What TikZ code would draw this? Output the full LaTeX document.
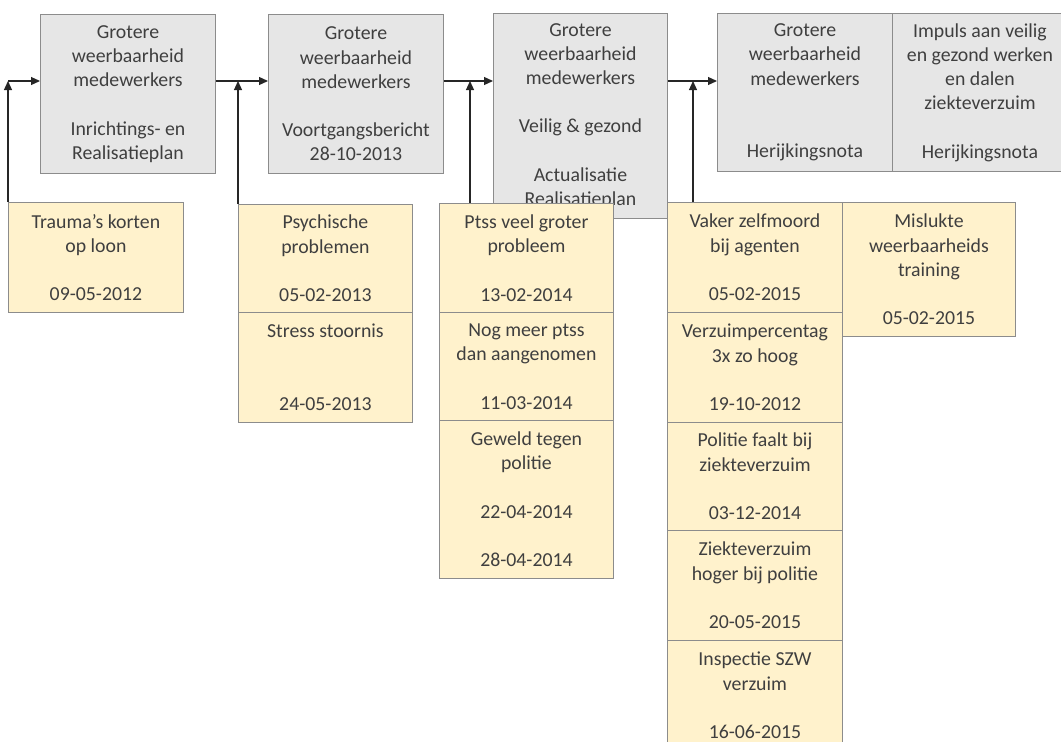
\documentclass[tikz,border=0pt]{standalone}
\usepackage{fontspec}
\setmainfont{Carlito}
\usetikzlibrary{arrows.meta}

\definecolor{goalfill}{HTML}{E6E6E6}
\definecolor{newsfill}{HTML}{FFF2CC}
\definecolor{edgegray}{HTML}{8C8C8C}
\definecolor{textgray}{HTML}{3F3F3F}

\begin{document}
\begin{tikzpicture}[>={Triangle[length=9pt, width=8pt]}, x=1pt, y=-1pt,
    goal/.style={draw=edgegray, fill=goalfill, line width=0.9pt, anchor=north west,
        inner sep=0pt, minimum width=175pt, align=center, text=textgray,
        font=\fontsize{19.8}{24.2}\selectfont},
    news/.style={goal, fill=newsfill},
    link/.style={->, line width=1.2pt, draw=black!85}]
    \clip (0, 0) rectangle (1061, 742);

    % Goals (top row)
    \node[goal, minimum height=159pt] (g1) at (40, 14) {Grotere\\weerbaarheid\\medewerkers\\~\\Inrichtings- en\\Realisatieplan};
    \node[goal, minimum height=159pt] (g2) at (268, 14) {Grotere\\weerbaarheid\\medewerkers\\~\\Voortgangsbericht\\28-10-2013};
    \node[goal, minimum width=174pt, minimum height=205pt] (g3) at (493, 13) {Grotere\\weerbaarheid\\medewerkers\\~\\Veilig \& gezond\\~\\Actualisatie\\Realisatieplan};
    \node[goal, minimum height=158pt] (g4a) at (717, 13) {Grotere\\weerbaarheid\\medewerkers\\~\\~\\Herijkingsnota};
    \node[goal, minimum height=158pt] (g4b) at (892, 13) {Impuls aan veilig\\en gezond werken\\en dalen\\ziekteverzuim\\~\\Herijkingsnota};

    % News items (below)
    \node[news, minimum height=110pt] (n1) at (8, 202) {Trauma’s korten\\op loon\\~\\09-05-2012};

    \node[news, minimum width=174pt, minimum height=108pt] (n2a) at (238, 204) {Psychische\\problemen\\~\\05-02-2013};
    \node[news, minimum width=174pt, minimum height=110pt] (n2b) at (238, 312) {Stress stoornis\\~\\~\\24-05-2013};

    \node[news, minimum width=174pt, minimum height=109pt] (n3a) at (439, 203) {Ptss veel groter\\probleem\\~\\13-02-2014};
    \node[news, minimum width=174pt, minimum height=108pt] (n3b) at (439, 312) {Nog meer ptss\\dan aangenomen\\~\\11-03-2014};
    \node[news, minimum width=174pt, minimum height=158pt] (n3c) at (439, 420) {Geweld tegen\\politie\\~\\22-04-2014\\~\\28-04-2014};

    \node[news, minimum height=110pt] (n4a) at (667, 202) {Vaker zelfmoord\\bij agenten\\~\\05-02-2015};
    \node[news, minimum height=110pt] (n4b) at (667, 312) {Verzuimpercentag\\3x zo hoog\\~\\19-10-2012};
    \node[news, minimum height=108pt] (n4c) at (667, 422) {Politie faalt bij\\ziekteverzuim\\~\\03-12-2014};
    \node[news, minimum height=110pt] (n4d) at (667, 530) {Ziekteverzuim\\hoger bij politie\\~\\20-05-2015};
    \node[news, minimum height=110pt] (n4e) at (667, 640) {Inspectie SZW\\verzuim\\~\\16-06-2015};
    \node[news, minimum width=173pt, minimum height=134pt] (n5) at (842, 202) {Mislukte\\weerbaarheids\\training\\~\\05-02-2015};

    % Timeline arrows
    \coordinate (start) at (8, 81);
    \draw[link] (start) -- (g1.west |- start);
    \draw[link] (g1.east |- start) -- (g2.west |- start);
    \draw[link] (g2.east |- start) -- (g3.west |- start);
    \draw[link] (g3.east |- start) -- (g4a.west |- start);

    % Arrows from news items up to the timeline
    \draw[link] (n1.north west) -- (start);
    \draw[link] (n2a.north west) -- (n2a.north west |- start);
    \draw[link] ([xshift=31pt]n3a.north west) -- ([xshift=31pt]n3a.north west |- start);
    \draw[link] ([xshift=26pt]n4a.north west) -- ([xshift=26pt]n4a.north west |- start);
\end{tikzpicture}
\end{document}
